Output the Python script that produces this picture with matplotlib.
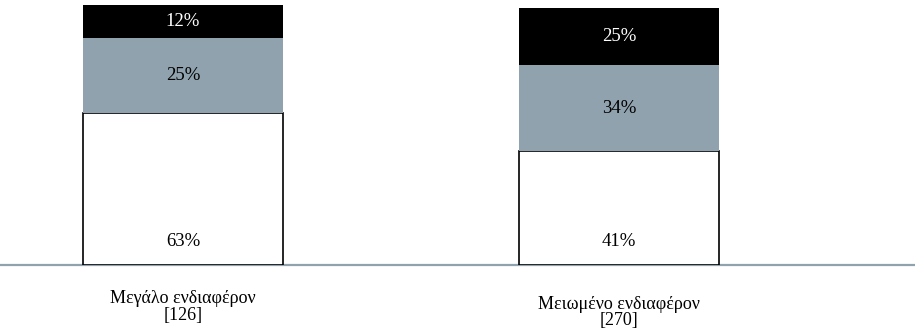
import numpy as np
import matplotlib.pyplot as plt

plt.rcParams['font.family'] = ['Liberation Serif', 'DejaVu Serif']

# categories and values (bar heights as drawn, labels as printed)
categories = ["Μεγάλο ενδιαφέρον\n[126]", "Μειωμένο ενδιαφέρον\n[270]"]
low = [58.2, 43.9]
mid = [28.9, 32.8]
high = [13.1, 22.3]
low_labels = ["63%", "41%"]
mid_labels = ["25%", "34%"]
high_labels = ["12%", "25%"]

grey = "#8fa2ae"

fig = plt.figure(figsize=(9.15, 3.32), dpi=100)
ax = fig.add_axes([0, (332 - 264.5) / 332, 1, (264.5 - 5) / 332])

x = np.arange(len(categories))
w = 200 / 436

ax.bar(x, low, w, color="white", edgecolor="black", linewidth=1.2, zorder=2)
ax.bar(x, mid, w, bottom=low, color=grey, zorder=2)
ax.bar(x, high, w, bottom=np.add(low, mid), color="black", zorder=2)

for i in x:
    ax.text(i, 9, low_labels[i], ha="center", va="center", fontsize=13.5, color="black")
    ax.text(i, low[i] + mid[i] / 2, mid_labels[i], ha="center", va="center",
            fontsize=13.5, color="black")
    ax.text(i, low[i] + mid[i] + high[i] / 2, high_labels[i], ha="center",
            va="center", fontsize=13.5, color="white")

# category labels below the baseline (second one sits a bit lower)
offsets = [18.5, 22.5]
for i, lab in enumerate(categories):
    ax.annotate(lab, xy=(i, 0), xytext=(0, -offsets[i]), textcoords="offset points",
                ha="center", va="top", fontsize=13, linespacing=0.95,
                annotation_clip=False)

ax.set_xlim(-183 / 436, (915 - 183) / 436)
ax.set_ylim(0, 100)
ax.axhline(0, color=grey, linewidth=1.6, zorder=1, clip_on=False)
for s in ax.spines.values():
    s.set_visible(False)
ax.set_xticks([])
ax.set_yticks([])

plt.savefig("out.png", dpi=100)
